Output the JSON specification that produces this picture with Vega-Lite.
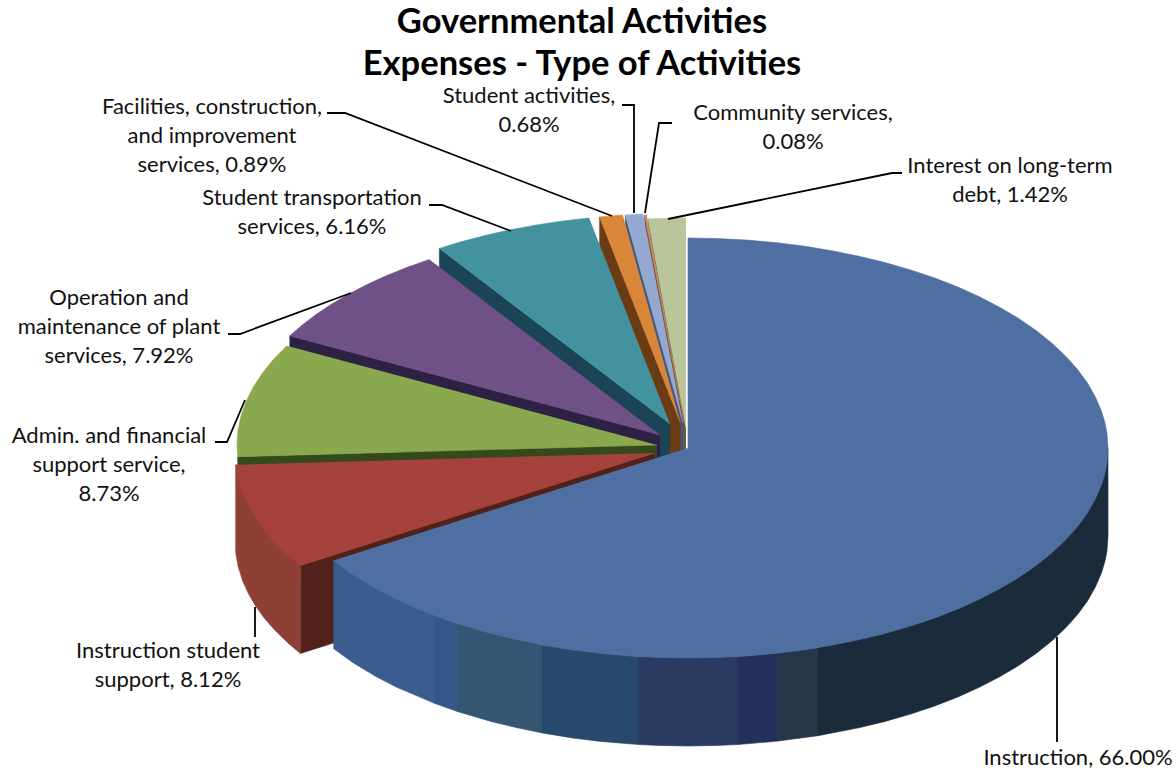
{
"$schema":"https://vega.github.io/schema/vega-lite/v6.json",
"autosize":{"type":"none"},
"padding":0,
"width":1176,
"height":775,
"background":"white",
"view":{"stroke":null},
"title":{"text":["Governmental Activities","Expenses - Type of Activities"],"anchor":"middle","dx":-6,"dy":86,"font":"Lato","fontSize":34.5,"fontWeight":"bold","color":"#000000","lineHeight":42},
"layer":[
{
"data":{"values":[
{"part":"Interest wall","i":0,"x":-2,"y":20},{"part":"Interest wall","i":1,"x":-39.8,"y":229.2},{"part":"Interest wall","i":2,"x":-39.8,"y":141.2},{"part":"Interest wall","i":3,"x":-2,"y":-68},
{"part":"Interest top","i":0,"x":-2,"y":20},{"part":"Interest top","i":1,"x":-39.8,"y":229.2},{"part":"Interest top","i":2,"x":-2,"y":230},
{"part":"Community wall","i":0,"x":-3.5,"y":24},{"part":"Community wall","i":1,"x":-43.4,"y":233},{"part":"Community wall","i":2,"x":-43.4,"y":145},{"part":"Community wall","i":3,"x":-3.5,"y":-64},
{"part":"Community top","i":0,"x":-3.5,"y":24},{"part":"Community top","i":1,"x":-43.4,"y":233},{"part":"Community top","i":2,"x":-41.3,"y":233.2},
{"part":"Activities wall","i":0,"x":-5,"y":25},{"part":"Activities wall","i":1,"x":-62.7,"y":233},{"part":"Activities wall","i":2,"x":-62.7,"y":145},{"part":"Activities wall","i":3,"x":-5,"y":-63},
{"part":"Activities top","i":0,"x":-5,"y":25},{"part":"Activities top","i":1,"x":-62.7,"y":233},{"part":"Activities top","i":2,"x":-44.9,"y":234},
{"part":"Facilities wall","i":0,"x":-7.5,"y":25},{"part":"Facilities wall","i":1,"x":-88.4,"y":231.1},{"part":"Facilities wall","i":2,"x":-88.4,"y":143.1},{"part":"Facilities wall","i":3,"x":-7.5,"y":-63},
{"part":"Facilities top","i":0,"x":-7.5,"y":25},{"part":"Facilities top","i":1,"x":-88.4,"y":231.1},{"part":"Facilities top","i":2,"x":-65.2,"y":233},
{"part":"Transportation wall","i":0,"x":-18,"y":24},{"part":"Transportation wall","i":1,"x":-248.6,"y":199.5},{"part":"Transportation wall","i":2,"x":-248.6,"y":111.5},{"part":"Transportation wall","i":3,"x":-18,"y":-64},
{"part":"Transportation top","i":0,"x":-18,"y":24},{"part":"Transportation top","i":1,"x":-248.6,"y":199.5},{"part":"Transportation top","i":2,"x":-228,"y":205.9},{"part":"Transportation top","i":3,"x":-202.1,"y":212.7},{"part":"Transportation top","i":4,"x":-178.7,"y":218},{"part":"Transportation top","i":5,"x":-151.3,"y":223.1},{"part":"Transportation top","i":6,"x":-126.7,"y":226.8},{"part":"Transportation top","i":7,"x":-98.9,"y":230.1},
{"part":"Operation wall","i":0,"x":-28,"y":13},{"part":"Operation wall","i":1,"x":-398.2,"y":112.2},{"part":"Operation wall","i":2,"x":-398.2,"y":24.2},{"part":"Operation wall","i":3,"x":-28,"y":-75},
{"part":"Operation top","i":0,"x":-28,"y":13},{"part":"Operation top","i":1,"x":-398.2,"y":112.2},{"part":"Operation top","i":2,"x":-386.1,"y":122.7},{"part":"Operation top","i":3,"x":-372,"y":133.5},{"part":"Operation top","i":4,"x":-356.7,"y":143.7},{"part":"Operation top","i":5,"x":-340.1,"y":153.5},{"part":"Operation top","i":6,"x":-322.4,"y":162.8},{"part":"Operation top","i":7,"x":-303.6,"y":171.5},{"part":"Operation top","i":8,"x":-280.8,"y":180.7},{"part":"Operation top","i":9,"x":-258.6,"y":188.5},
{"part":"Admin wall","i":0,"x":-31,"y":3},{"part":"Admin wall","i":1,"x":-450.3,"y":-8.7},{"part":"Admin wall","i":2,"x":-450.3,"y":-96.7},{"part":"Admin wall","i":3,"x":-31,"y":-85},
{"part":"Admin top","i":0,"x":-31,"y":3},{"part":"Admin top","i":1,"x":-450.3,"y":-8.7},{"part":"Admin top","i":2,"x":-451,"y":3},{"part":"Admin top","i":3,"x":-450,"y":17.7},{"part":"Admin top","i":4,"x":-446.9,"y":32.2},{"part":"Admin top","i":5,"x":-441.8,"y":46.7},{"part":"Admin top","i":6,"x":-434.7,"y":60.9},{"part":"Admin top","i":7,"x":-425.7,"y":74.8},{"part":"Admin top","i":8,"x":-414.7,"y":88.4},{"part":"Admin top","i":9,"x":-401.2,"y":102.2},
{"part":"Support wall","i":0,"x":-33,"y":-5},{"part":"Support wall","i":1,"x":-387.6,"y":-117.5},{"part":"Support wall","i":2,"x":-387.6,"y":-205.5},{"part":"Support wall","i":3,"x":-33,"y":-93},
{"part":"Support rim","i":0,"x":-387.6,"y":-117.5},{"part":"Support rim","i":1,"x":-452.3,"y":-16.7},{"part":"Support rim","i":2,"x":-452.3,"y":-104.7},{"part":"Support rim","i":3,"x":-449.9,"y":-118.6},{"part":"Support rim","i":4,"x":-445.3,"y":-133.1},{"part":"Support rim","i":5,"x":-439.6,"y":-145.6},{"part":"Support rim","i":6,"x":-432.5,"y":-157.9},{"part":"Support rim","i":7,"x":-423.8,"y":-170},{"part":"Support rim","i":8,"x":-413.6,"y":-181.7},{"part":"Support rim","i":9,"x":-400.3,"y":-194.8},{"part":"Support rim","i":10,"x":-387.6,"y":-205.5},
{"part":"Support top","i":0,"x":-33,"y":-5},{"part":"Support top","i":1,"x":-387.6,"y":-117.5},{"part":"Support top","i":2,"x":-400.3,"y":-106.8},{"part":"Support top","i":3,"x":-413.6,"y":-93.7},{"part":"Support top","i":4,"x":-423.8,"y":-82},{"part":"Support top","i":5,"x":-432.5,"y":-69.9},{"part":"Support top","i":6,"x":-439.6,"y":-57.6},{"part":"Support top","i":7,"x":-445.3,"y":-45.1},{"part":"Support top","i":8,"x":-449.9,"y":-30.6},{"part":"Support top","i":9,"x":-452.3,"y":-16.7},
{"part":"Instruction rim 1","i":0,"x":-354.6,"y":-112.5},{"part":"Instruction rim 1","i":1,"x":-253,"y":-167.6},{"part":"Instruction rim 1","i":2,"x":-253,"y":-255.6},{"part":"Instruction rim 1","i":3,"x":-291.8,"y":-239.1},{"part":"Instruction rim 1","i":4,"x":-312.1,"y":-228.5},{"part":"Instruction rim 1","i":5,"x":-335.4,"y":-214.4},{"part":"Instruction rim 1","i":6,"x":-354.6,"y":-200.5},
{"part":"Instruction rim 2","i":0,"x":-253,"y":-167.6},{"part":"Instruction rim 2","i":1,"x":-230,"y":-175.7},{"part":"Instruction rim 2","i":2,"x":-230,"y":-263.7},{"part":"Instruction rim 2","i":3,"x":-253,"y":-255.6},
{"part":"Instruction rim 3","i":0,"x":-230,"y":-175.7},{"part":"Instruction rim 3","i":1,"x":-146,"y":-196.9},{"part":"Instruction rim 3","i":2,"x":-146,"y":-284.9},{"part":"Instruction rim 3","i":3,"x":-170.8,"y":-279.8},{"part":"Instruction rim 3","i":4,"x":-197.2,"y":-273.4},{"part":"Instruction rim 3","i":5,"x":-230,"y":-263.7},
{"part":"Instruction rim 4","i":0,"x":-146,"y":-196.9},{"part":"Instruction rim 4","i":1,"x":-50,"y":-208.5},{"part":"Instruction rim 4","i":2,"x":-50,"y":-296.5},{"part":"Instruction rim 4","i":3,"x":-87.3,"y":-293.4},{"part":"Instruction rim 4","i":4,"x":-115.8,"y":-289.9},{"part":"Instruction rim 4","i":5,"x":-146,"y":-284.9},
{"part":"Instruction rim 5","i":0,"x":-50,"y":-208.5},{"part":"Instruction rim 5","i":1,"x":50,"y":-208.5},{"part":"Instruction rim 5","i":2,"x":50,"y":-296.5},{"part":"Instruction rim 5","i":3,"x":29.3,"y":-297.5},{"part":"Instruction rim 5","i":4,"x":0,"y":-298},{"part":"Instruction rim 5","i":5,"x":-29.3,"y":-297.5},{"part":"Instruction rim 5","i":6,"x":-50,"y":-296.5},
{"part":"Instruction rim 6","i":0,"x":50,"y":-208.5},{"part":"Instruction rim 6","i":1,"x":90,"y":-205.1},{"part":"Instruction rim 6","i":2,"x":90,"y":-293.1},{"part":"Instruction rim 6","i":3,"x":50,"y":-296.5},
{"part":"Instruction rim 7","i":0,"x":90,"y":-205.1},{"part":"Instruction rim 7","i":1,"x":130,"y":-199.7},{"part":"Instruction rim 7","i":2,"x":130,"y":-287.7},{"part":"Instruction rim 7","i":3,"x":90,"y":-293.1},
{"part":"Instruction rim 8","i":0,"x":130,"y":-199.7},{"part":"Instruction rim 8","i":1,"x":420,"y":0},{"part":"Instruction rim 8","i":2,"x":420,"y":-88},{"part":"Instruction rim 8","i":3,"x":419,"y":-102.7},{"part":"Instruction rim 8","i":4,"x":416.9,"y":-113.6},{"part":"Instruction rim 8","i":5,"x":413.6,"y":-124.5},{"part":"Instruction rim 8","i":6,"x":407.5,"y":-138.8},{"part":"Instruction rim 8","i":7,"x":399.5,"y":-152.9},{"part":"Instruction rim 8","i":8,"x":389.4,"y":-166.7},{"part":"Instruction rim 8","i":9,"x":377.5,"y":-180.1},{"part":"Instruction rim 8","i":10,"x":363.7,"y":-193},{"part":"Instruction rim 8","i":11,"x":348.2,"y":-205.4},{"part":"Instruction rim 8","i":12,"x":331,"y":-217.3},{"part":"Instruction rim 8","i":13,"x":312.1,"y":-228.5},{"part":"Instruction rim 8","i":14,"x":291.8,"y":-239.1},{"part":"Instruction rim 8","i":15,"x":270,"y":-248.9},{"part":"Instruction rim 8","i":16,"x":246.9,"y":-257.9},{"part":"Instruction rim 8","i":17,"x":222.6,"y":-266.1},{"part":"Instruction rim 8","i":18,"x":197.2,"y":-273.4},{"part":"Instruction rim 8","i":19,"x":170.8,"y":-279.8},{"part":"Instruction rim 8","i":20,"x":130,"y":-287.7},
{"part":"Instruction top","i":0,"x":0,"y":0},{"part":"Instruction top","i":1,"x":0,"y":210},{"part":"Instruction top","i":2,"x":29.3,"y":209.5},{"part":"Instruction top","i":3,"x":58.5,"y":208},{"part":"Instruction top","i":4,"x":87.3,"y":205.4},{"part":"Instruction top","i":5,"x":115.8,"y":201.9},{"part":"Instruction top","i":6,"x":143.6,"y":197.3},{"part":"Instruction top","i":7,"x":170.8,"y":191.8},{"part":"Instruction top","i":8,"x":197.2,"y":185.4},{"part":"Instruction top","i":9,"x":222.6,"y":178.1},{"part":"Instruction top","i":10,"x":246.9,"y":169.9},{"part":"Instruction top","i":11,"x":270,"y":160.9},{"part":"Instruction top","i":12,"x":291.8,"y":151.1},{"part":"Instruction top","i":13,"x":312.1,"y":140.5},{"part":"Instruction top","i":14,"x":331,"y":129.3},{"part":"Instruction top","i":15,"x":348.2,"y":117.4},{"part":"Instruction top","i":16,"x":363.7,"y":105},{"part":"Instruction top","i":17,"x":377.5,"y":92.1},{"part":"Instruction top","i":18,"x":389.4,"y":78.7},{"part":"Instruction top","i":19,"x":399.5,"y":64.9},{"part":"Instruction top","i":20,"x":407.5,"y":50.8},{"part":"Instruction top","i":21,"x":413.6,"y":36.5},{"part":"Instruction top","i":22,"x":416.9,"y":25.6},{"part":"Instruction top","i":23,"x":419,"y":14.7},{"part":"Instruction top","i":24,"x":420,"y":0},{"part":"Instruction top","i":25,"x":419,"y":-14.7},{"part":"Instruction top","i":26,"x":416.9,"y":-25.6},{"part":"Instruction top","i":27,"x":413.6,"y":-36.5},{"part":"Instruction top","i":28,"x":407.5,"y":-50.8},{"part":"Instruction top","i":29,"x":399.5,"y":-64.9},{"part":"Instruction top","i":30,"x":389.4,"y":-78.7},{"part":"Instruction top","i":31,"x":377.5,"y":-92.1},{"part":"Instruction top","i":32,"x":363.7,"y":-105},{"part":"Instruction top","i":33,"x":348.2,"y":-117.4},{"part":"Instruction top","i":34,"x":331,"y":-129.3},{"part":"Instruction top","i":35,"x":312.1,"y":-140.5},{"part":"Instruction top","i":36,"x":291.8,"y":-151.1},{"part":"Instruction top","i":37,"x":270,"y":-160.9},{"part":"Instruction top","i":38,"x":246.9,"y":-169.9},{"part":"Instruction top","i":39,"x":222.6,"y":-178.1},{"part":"Instruction top","i":40,"x":197.2,"y":-185.4},{"part":"Instruction top","i":41,"x":170.8,"y":-191.8},{"part":"Instruction top","i":42,"x":143.6,"y":-197.3},{"part":"Instruction top","i":43,"x":115.8,"y":-201.9},{"part":"Instruction top","i":44,"x":87.3,"y":-205.4},{"part":"Instruction top","i":45,"x":58.5,"y":-208},{"part":"Instruction top","i":46,"x":29.3,"y":-209.5},{"part":"Instruction top","i":47,"x":0,"y":-210},{"part":"Instruction top","i":48,"x":-29.3,"y":-209.5},{"part":"Instruction top","i":49,"x":-58.5,"y":-208},{"part":"Instruction top","i":50,"x":-87.3,"y":-205.4},{"part":"Instruction top","i":51,"x":-115.8,"y":-201.9},{"part":"Instruction top","i":52,"x":-143.6,"y":-197.3},{"part":"Instruction top","i":53,"x":-170.8,"y":-191.8},{"part":"Instruction top","i":54,"x":-197.2,"y":-185.4},{"part":"Instruction top","i":55,"x":-222.6,"y":-178.1},{"part":"Instruction top","i":56,"x":-246.9,"y":-169.9},{"part":"Instruction top","i":57,"x":-270,"y":-160.9},{"part":"Instruction top","i":58,"x":-291.8,"y":-151.1},{"part":"Instruction top","i":59,"x":-312.1,"y":-140.5},{"part":"Instruction top","i":60,"x":-335.4,"y":-126.4},{"part":"Instruction top","i":61,"x":-354.6,"y":-112.5}
]},
"mark":{"type":"line","filled":true,"strokeWidth":0.6,"strokeJoin":"round"},
"encoding":{
"x":{"field":"x","type":"quantitative","scale":{"domain":[-688,488]},"axis":null},
"y":{"field":"y","type":"quantitative","scale":{"domain":[-327,448]},"axis":null},
"order":{"field":"i","type":"quantitative"},
"detail":{"field":"part"},
"fill":{"field":"part","type":"nominal","legend":null,"scale":{"domain":["Interest wall","Interest top","Community wall","Community top","Activities wall","Activities top","Facilities wall","Facilities top","Transportation wall","Transportation top","Operation wall","Operation top","Admin wall","Admin top","Support wall","Support rim","Support top","Instruction rim 1","Instruction rim 2","Instruction rim 3","Instruction rim 4","Instruction rim 5","Instruction rim 6","Instruction rim 7","Instruction rim 8","Instruction top"],"range":["#5d6645","#b9c69a","#7a4a2a","#c88a6c","#3f5a80","#94a9d2","#6b3c14","#da8639","#1b4556","#43929f","#2d2243","#6f5087","#344a1c","#8aa84d","#52211a","#8e4036","#a5423c","#3a5c8e","#345788","#345673","#27496b","#2b3a60","#24315a","#25364a","#1a2b3c","#4f6fa3"]}},
"stroke":{"field":"part","type":"nominal","legend":null,"scale":{"domain":["Interest wall","Interest top","Community wall","Community top","Activities wall","Activities top","Facilities wall","Facilities top","Transportation wall","Transportation top","Operation wall","Operation top","Admin wall","Admin top","Support wall","Support rim","Support top","Instruction rim 1","Instruction rim 2","Instruction rim 3","Instruction rim 4","Instruction rim 5","Instruction rim 6","Instruction rim 7","Instruction rim 8","Instruction top"],"range":["#5d6645","#b9c69a","#7a4a2a","#c88a6c","#3f5a80","#94a9d2","#6b3c14","#da8639","#1b4556","#43929f","#2d2243","#6f5087","#344a1c","#8aa84d","#52211a","#8e4036","#a5423c","#3a5c8e","#345788","#345673","#27496b","#2b3a60","#24315a","#25364a","#1a2b3c","#4f6fa3"]}}
}
},
{
"data":{"values":[
{"leader":"Instruction","i":0,"x":369,"y":-189},{"leader":"Instruction","i":1,"x":369,"y":-294},
{"leader":"Support","i":0,"x":-433,"y":-159},{"leader":"Support","i":1,"x":-433,"y":-189},
{"leader":"Admin","i":0,"x":-443,"y":48},{"leader":"Admin","i":1,"x":-461,"y":6},{"leader":"Admin","i":2,"x":-473,"y":6},
{"leader":"Operation","i":0,"x":-460,"y":114},{"leader":"Operation","i":1,"x":-448,"y":114},{"leader":"Operation","i":2,"x":-337,"y":155},
{"leader":"Transportation","i":0,"x":-259,"y":243},{"leader":"Transportation","i":1,"x":-246,"y":243},{"leader":"Transportation","i":2,"x":-177,"y":217},
{"leader":"Facilities","i":0,"x":-361,"y":335},{"leader":"Facilities","i":1,"x":-343,"y":335},{"leader":"Facilities","i":2,"x":-76,"y":232},
{"leader":"Activities","i":0,"x":-66,"y":343},{"leader":"Activities","i":1,"x":-54,"y":343},{"leader":"Activities","i":2,"x":-54,"y":235},
{"leader":"Community","i":0,"x":-16,"y":325},{"leader":"Community","i":1,"x":-29,"y":325},{"leader":"Community","i":2,"x":-43,"y":235},
{"leader":"Interest","i":0,"x":214,"y":275},{"leader":"Interest","i":1,"x":204,"y":275},{"leader":"Interest","i":2,"x":-20,"y":229}
]},
"mark":{"type":"line","color":"#000000","strokeWidth":1.8},
"encoding":{
"x":{"field":"x","type":"quantitative","scale":{"domain":[-688,488]},"axis":null},
"y":{"field":"y","type":"quantitative","scale":{"domain":[-327,448]},"axis":null},
"order":{"field":"i","type":"quantitative"},
"detail":{"field":"leader"}
}
},
{
"data":{"values":[
{"slice":"Instruction","value":66.00,"label":"Instruction, 66.00%","x":390,"y":-310},
{"slice":"Instruction student support","value":8.12,"label":"Instruction student\nsupport, 8.12%","x":-520,"y":-203},
{"slice":"Admin. and financial support service","value":8.73,"label":"Admin. and financial\nsupport service,\n8.73%","x":-579,"y":12},
{"slice":"Operation and maintenance of plant services","value":7.92,"label":"Operation and\nmaintenance of plant\nservices, 7.92%","x":-569,"y":150},
{"slice":"Student transportation services","value":6.16,"label":"Student transportation\nservices, 6.16%","x":-376,"y":250},
{"slice":"Facilities, construction, and improvement services","value":0.89,"label":"Facilities, construction,\nand improvement\nservices, 0.89%","x":-476,"y":341},
{"slice":"Student activities","value":0.68,"label":"Student activities,\n0.68%","x":-159,"y":352},
{"slice":"Community services","value":0.08,"label":"Community services,\n0.08%","x":105,"y":335},
{"slice":"Interest on long-term debt","value":1.42,"label":"Interest on long-term\ndebt, 1.42%","x":322,"y":282}
]},
"mark":{"type":"text","font":"Lato","fontSize":22,"lineHeight":29,"lineBreak":"\n","align":"center","baseline":"middle","color":"#111111"},
"encoding":{
"x":{"field":"x","type":"quantitative","scale":{"domain":[-688,488]},"axis":null},
"y":{"field":"y","type":"quantitative","scale":{"domain":[-327,448]},"axis":null},
"text":{"field":"label"}
}
}
]
}
